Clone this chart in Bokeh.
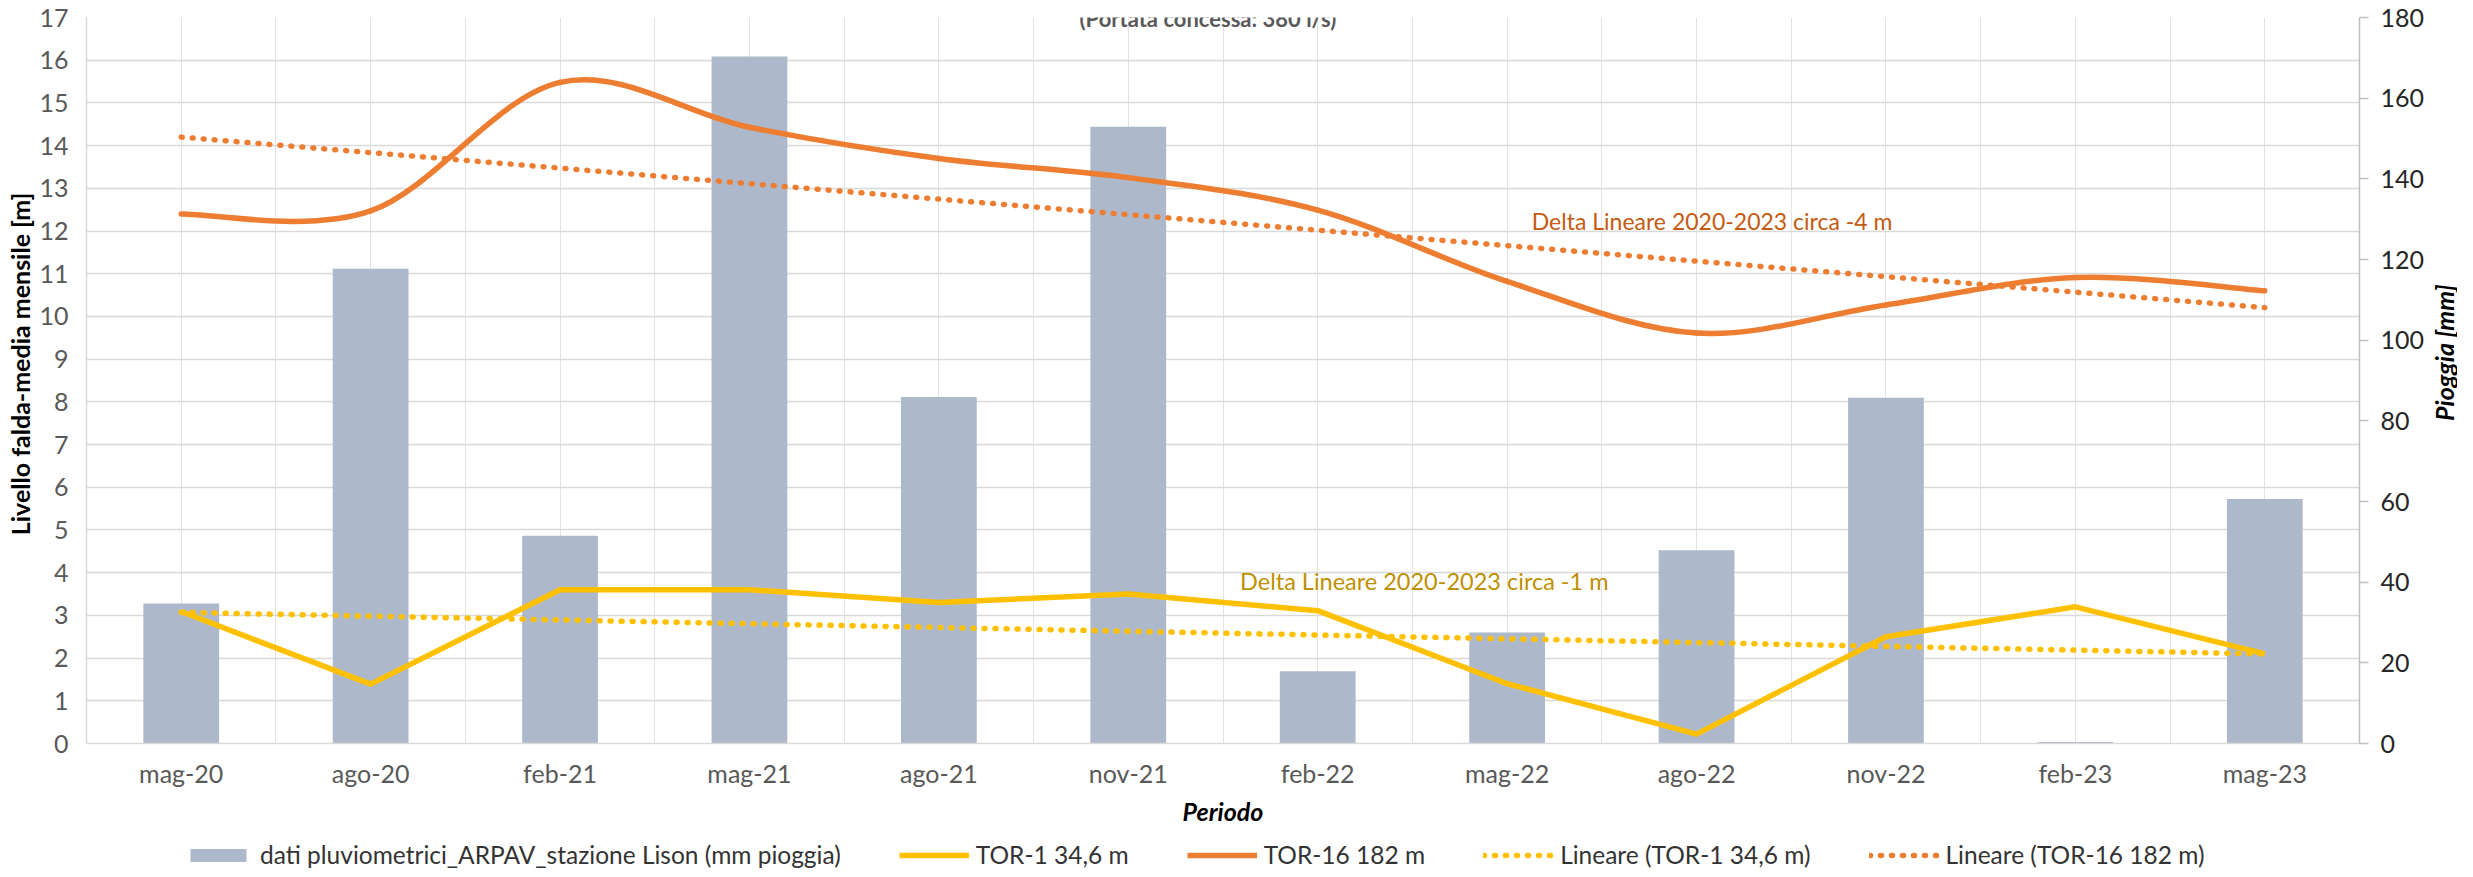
import numpy as np
from bokeh.plotting import figure
from bokeh.layouts import column, row
from bokeh.models import Range1d, LinearAxis, FixedTicker, Label, Legend, LegendItem
from bokeh.core.properties import value
from bokeh.embed import file_html
from bokeh.resources import INLINE

# ---------------- data ----------------
periods = ["mag-20", "ago-20", "feb-21", "mag-21", "ago-21", "nov-21",
           "feb-22", "mag-22", "ago-22", "nov-22", "feb-23", "mag-23"]
rain_mm = [34.7, 117.7, 51.5, 170.3, 85.9, 152.9, 17.9, 27.5, 47.9, 85.7, 0.4, 60.6]
tor1_m = [3.09, 1.39, 3.60, 3.60, 3.30, 3.50, 3.11, 1.40, 0.22, 2.50, 3.20, 2.10]
tor16_m = [12.40, 12.47, 15.48, 14.43, 13.70, 13.25, 12.49, 10.82, 9.61, 10.27, 10.91, 10.60]
left_ticks = list(range(0, 18))
right_ticks = list(range(0, 181, 20))

rain_label = "dati pluviometrici_ARPAV_stazione Lison (mm pioggia)"
tor1_label = "TOR-1 34,6 m"
tor16_label = "TOR-16 182 m"
trend1_label = "Lineare (TOR-1 34,6 m)"
trend16_label = "Lineare (TOR-16 182 m)"
note16 = "Delta Lineare 2020-2023 circa -4 m"
note1 = "Delta Lineare 2020-2023 circa -1 m"
title_text = "(Portata concessa: 380 l/s)"
left_title = "Livello falda-media mensile [m]"
right_title = "Pioggia [mm]"
x_title = "Periodo"

FONT = "Lato"
C_BAR = "#ADB9CA"
C_T1 = "#FFC000"
C_T16 = "#ED7D31"
GRID = "#D9D9D9"
LW = 5.5
DOT = "1 10"
NAN2 = [np.nan, np.nan]

x = np.arange(len(periods), dtype=float)

# linear trend lines (Excel "Lineare")
trend1 = np.polyval(np.polyfit(x, tor1_m, 1), x)
trend16 = np.polyval(np.polyfit(x, tor16_m, 1), x)


def smooth_segments(xs, ys):
    """Catmull-Rom style bezier segments (Excel smoothed line)."""
    xs = np.asarray(xs, float)
    ys = np.asarray(ys, float)
    n = len(xs)
    px = np.concatenate([[xs[0]], xs, [xs[-1]]])
    py = np.concatenate([[ys[0]], ys, [ys[-1]]])
    return dict(
        x0=xs[:-1], y0=ys[:-1], x1=xs[1:], y1=ys[1:],
        cx0=xs[:-1] + (px[2:n + 1] - px[0:n - 1]) / 6.0,
        cy0=ys[:-1] + (py[2:n + 1] - py[0:n - 1]) / 6.0,
        cx1=xs[1:] - (px[3:n + 2] - px[1:n]) / 6.0,
        cy1=ys[1:] - (py[3:n + 2] - py[1:n]) / 6.0,
    )


H = 832          # height of chart row
WL, WR = 36, 28  # side strips holding the rotated axis titles
WM = 2393        # main chart width


def strip(width, height):
    f = figure(width=width, height=height, output_backend="svg", toolbar_location=None,
               x_range=Range1d(0, width), y_range=Range1d(0, height),
               x_axis_location=None, y_axis_location=None,
               min_border_left=0, min_border_right=0, min_border_top=0, min_border_bottom=0)
    f.grid.visible = False
    f.outline_line_color = None
    f.border_fill_color = "white"
    f.background_fill_color = "white"
    return f


p = figure(width=WM, height=H, output_backend="svg", toolbar_location=None,
           x_range=Range1d(-0.5, 11.5), y_range=Range1d(0, 17),
           min_border_left=48, min_border_right=70, min_border_top=17, min_border_bottom=89)
p.extra_y_ranges = {"rain": Range1d(0, 180)}
p.outline_line_color = None
p.background_fill_color = "white"
p.border_fill_color = "white"

# grids
p.xgrid.ticker = FixedTicker(ticks=list(np.arange(-0.5, 11.51, 0.5)))
p.xgrid.grid_line_color = "#E3E3E3"
p.xgrid.grid_line_width = 1
p.ygrid.ticker = FixedTicker(ticks=left_ticks)
p.ygrid.grid_line_color = GRID
p.ygrid.grid_line_width = 1.5

# x axis
xa = p.xaxis[0]
xa.ticker = FixedTicker(ticks=list(range(len(periods))))
xa.major_label_overrides = {i: periods[i] for i in range(len(periods))}
xa.major_tick_out = 0
xa.major_tick_in = 0
xa.minor_tick_out = 0
xa.minor_tick_in = 0
xa.axis_line_color = GRID
xa.axis_line_width = 1.5
xa.major_label_text_font = FONT
xa.major_label_text_font_size = "25px"
xa.major_label_text_color = "#595959"
xa.major_label_standoff = 14
xa.axis_label = x_title
xa.axis_label_text_font = FONT
xa.axis_label_text_font_size = "25px"
xa.axis_label_text_font_style = "bold italic"
xa.axis_label_text_color = "black"
xa.axis_label_standoff = 5

# left axis
ya = p.yaxis[0]
ya.ticker = FixedTicker(ticks=left_ticks)
ya.major_tick_out = 0
ya.major_tick_in = 0
ya.minor_tick_out = 0
ya.minor_tick_in = 0
ya.axis_line_color = GRID
ya.axis_line_width = 1.5
ya.major_label_text_font = FONT
ya.major_label_text_font_size = "25px"
ya.major_label_text_color = "#595959"
ya.major_label_standoff = 18

# right axis
ra = LinearAxis(y_range_name="rain", ticker=FixedTicker(ticks=right_ticks))
ra.major_tick_out = 9
ra.major_tick_in = 0
ra.minor_tick_out = 0
ra.minor_tick_in = 0
ra.axis_line_color = "#BFBFBF"
ra.axis_line_width = 1.5
ra.major_tick_line_color = "#BFBFBF"
ra.major_tick_line_width = 1.5
ra.major_label_text_font = FONT
ra.major_label_text_font_size = "25px"
ra.major_label_text_color = "#262626"
ra.major_label_standoff = 12
p.add_layout(ra, "right")

# bars (rain)
p.vbar(x=x, top=rain_mm, width=0.4, y_range_name="rain",
       fill_color=C_BAR, line_color=None)

# TOR-16 smoothed line
p.bezier(line_color=C_T16, line_width=LW, line_cap="round",
         **smooth_segments(x, tor16_m))

# TOR-1 straight line
p.line(x=x, y=tor1_m, line_color=C_T1, line_width=LW, line_join="round")

# trend lines (dotted)
p.line(x=x, y=trend1, line_color=C_T1, line_width=LW, line_dash=DOT, line_cap="round")
p.line(x=x, y=trend16, line_color=C_T16, line_width=LW, line_dash=DOT, line_cap="round")

# annotations (positions in data units of the left axis / category index)
p.add_layout(Label(x=7.13, y=12.23, text=note16, text_font=FONT, text_font_size="23px",
                   text_color="#C55A11", text_align="left", text_baseline="alphabetic"))
p.add_layout(Label(x=5.59, y=3.80, text=note1, text_font=FONT, text_font_size="23.5px",
                   text_color="#BF9000", text_align="left", text_baseline="alphabetic"))
p.add_layout(Label(x=5.42, y=16.98, text=title_text, text_font=FONT, text_font_size="22px",
                   text_font_style="bold", text_color="#595959",
                   text_align="center", text_baseline="alphabetic"))

# rotated axis titles in side strips (reading bottom to top)
pl = strip(WL, H)
pl.text(x=[19], y=[H - 397], text=[left_title], angle=np.pi / 2,
        text_align="center", text_baseline="middle", text_font=value(FONT),
        text_font_size="25px", text_font_style="bold", text_color="black")
pr = strip(WR, H)
pr.text(x=[14], y=[H - 384], text=[right_title], angle=np.pi / 2,
        text_align="center", text_baseline="middle", text_font=value(FONT),
        text_font_size="25px", text_font_style="bold italic", text_color="black")

# ---------------- legend strip (separate figure below the chart) ----------------
lf = strip(WL + WM + WR, 37)
g_bar = lf.vbar(x=[np.nan], top=[np.nan], width=0.4, fill_color=C_BAR, line_color=None)
g_t1 = lf.line(x=NAN2, y=NAN2, line_color=C_T1, line_width=LW)
g_t16 = lf.line(x=NAN2, y=NAN2, line_color=C_T16, line_width=LW)
g_tr1 = lf.line(x=NAN2, y=NAN2, line_color=C_T1, line_width=LW, line_dash=DOT, line_cap="round")
g_tr16 = lf.line(x=NAN2, y=NAN2, line_color=C_T16, line_width=LW, line_dash=DOT, line_cap="round")

legend = Legend(items=[
    LegendItem(label=rain_label, renderers=[g_bar]),
    LegendItem(label=tor1_label, renderers=[g_t1]),
    LegendItem(label=tor16_label, renderers=[g_t16]),
    LegendItem(label=trend1_label, renderers=[g_tr1]),
    LegendItem(label=trend16_label, renderers=[g_tr16]),
], orientation="horizontal", location=(183, 0), glyph_width=70, glyph_height=16,
    label_standoff=7, spacing=58, padding=0, margin=0, border_line_color=None,
    background_fill_alpha=0, label_text_font=FONT, label_text_font_size="24.5px",
    label_text_color="#333333", label_height=24)
lf.add_layout(legend)

layout = column(row(pl, p, pr, spacing=0), lf, spacing=0)
open("out.html", "w").write(file_html(layout, INLINE))
